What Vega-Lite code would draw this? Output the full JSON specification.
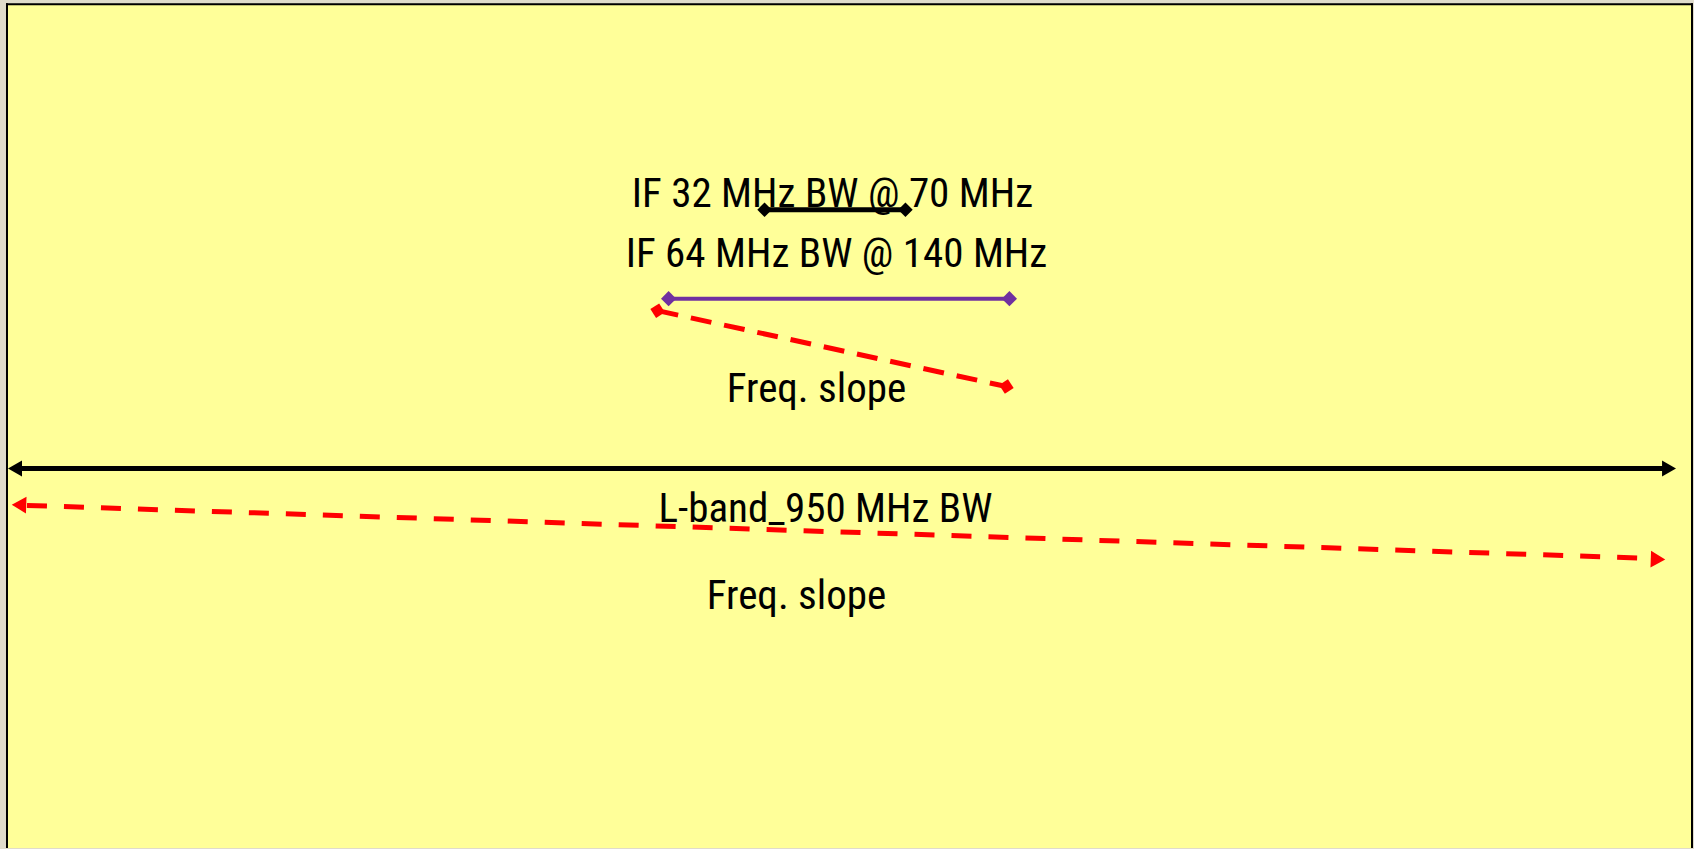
{
  "$schema": "https://vega.github.io/schema/vega-lite/v6.json",
  "width": 1694,
  "height": 849,
  "autosize": {"type": "fit", "contains": "padding"},
  "padding": 0,
  "background": "#E0DCCC",
  "config": {"view": {"stroke": null}},
  "encoding": {
    "x": {"field": "x", "type": "quantitative", "scale": {"domain": [0, 1694], "nice": false, "zero": false}, "axis": null},
    "y": {"field": "y", "type": "quantitative", "scale": {"domain": [0, 849], "nice": false, "zero": false, "reverse": true}, "axis": null}
  },
  "layer": [
    {
      "data": {"values": [{"x": 7, "x2": 1693, "y": 4.3, "y2": 849}]},
      "mark": {"type": "rect", "fill": "#FFFF99"},
      "encoding": {"x2": {"field": "x2"}, "y2": {"field": "y2"}}
    },
    {
      "data": {"values": [
        {"x": 7, "y": 3.3, "x2": 7, "y2": 849},
        {"x": 6, "y": 4.3, "x2": 1694, "y2": 4.3},
        {"x": 1693, "y": 3.3, "x2": 1693, "y2": 849}
      ]},
      "mark": {"type": "rule", "color": "#000000", "strokeWidth": 2},
      "encoding": {"x2": {"field": "x2"}, "y2": {"field": "y2"}}
    },
    {
      "data": {"values": [
        {"label": "IF 32 MHz BW @ 70 MHz", "x": 833, "y": 207},
        {"label": "IF 64 MHz BW @ 140 MHz", "x": 837, "y": 267},
        {"label": "Freq. slope", "x": 817, "y": 402},
        {"label": "L-band_950 MHz BW", "x": 826, "y": 523},
        {"label": "Freq. slope", "x": 797, "y": 610}
      ]},
      "mark": {"type": "text", "font": "Roboto Condensed, Liberation Sans", "fontSize": 41, "align": "center", "baseline": "alphabetic", "color": "#000000"},
      "encoding": {"text": {"field": "label"}}
    },
    {
      "data": {"values": [{"x": 765, "y": 210, "x2": 906, "y2": 210}, {"x": 15, "y": 469, "x2": 1670, "y2": 469}]},
      "mark": {"type": "rule", "color": "#000000", "strokeWidth": 5},
      "encoding": {"x2": {"field": "x2"}, "y2": {"field": "y2"}}
    },
    {
      "data": {"values": [{"x": 669, "y": 299, "x2": 1010, "y2": 299}]},
      "mark": {"type": "rule", "color": "#7030A0", "strokeWidth": 4},
      "encoding": {"x2": {"field": "x2"}, "y2": {"field": "y2"}}
    },
    {
      "data": {"values": [{"x": 658, "y": 311, "x2": 1007, "y2": 387}]},
      "mark": {"type": "rule", "color": "#FF0000", "strokeWidth": 5, "strokeDash": [21, 13]},
      "encoding": {"x2": {"field": "x2"}, "y2": {"field": "y2"}}
    },
    {
      "data": {"values": [{"x": 27, "y": 506, "x2": 1651, "y2": 559}]},
      "mark": {"type": "rule", "color": "#FF0000", "strokeWidth": 5, "strokeDash": [20, 17]},
      "encoding": {"x2": {"field": "x2"}, "y2": {"field": "y2"}}
    },
    {
      "data": {"values": [{"x": 765, "y": 210}, {"x": 906, "y": 210}]},
      "mark": {"type": "point", "shape": "diamond", "filled": true, "color": "#000000", "size": 210, "opacity": 1}
    },
    {
      "data": {"values": [{"x": 669, "y": 299}, {"x": 1010, "y": 299}]},
      "mark": {"type": "point", "shape": "diamond", "filled": true, "color": "#7030A0", "size": 230, "opacity": 1}
    },
    {
      "data": {"values": [{"x": 658, "y": 311}, {"x": 1007, "y": 387}]},
      "mark": {"type": "point", "shape": "diamond", "filled": true, "color": "#FF0000", "size": 220, "opacity": 1, "angle": 12}
    },
    {
      "data": {"values": [{"x": 15, "y": 469, "end": "left"}, {"x": 1670, "y": 469, "end": "right"}]},
      "mark": {"type": "point", "filled": true, "color": "#000000", "size": 260, "opacity": 1},
      "encoding": {"shape": {"field": "end", "type": "nominal", "scale": {"domain": ["left", "right"], "range": ["triangle-left", "triangle-right"]}, "legend": null}}
    },
    {
      "data": {"values": [{"x": 19, "y": 505.5, "end": "left"}, {"x": 1659, "y": 560, "end": "right"}]},
      "mark": {"type": "point", "filled": true, "color": "#FF0000", "size": 280, "opacity": 1, "angle": 2},
      "encoding": {"shape": {"field": "end", "type": "nominal", "scale": {"domain": ["left", "right"], "range": ["triangle-left", "triangle-right"]}, "legend": null}}
    }
  ]
}
